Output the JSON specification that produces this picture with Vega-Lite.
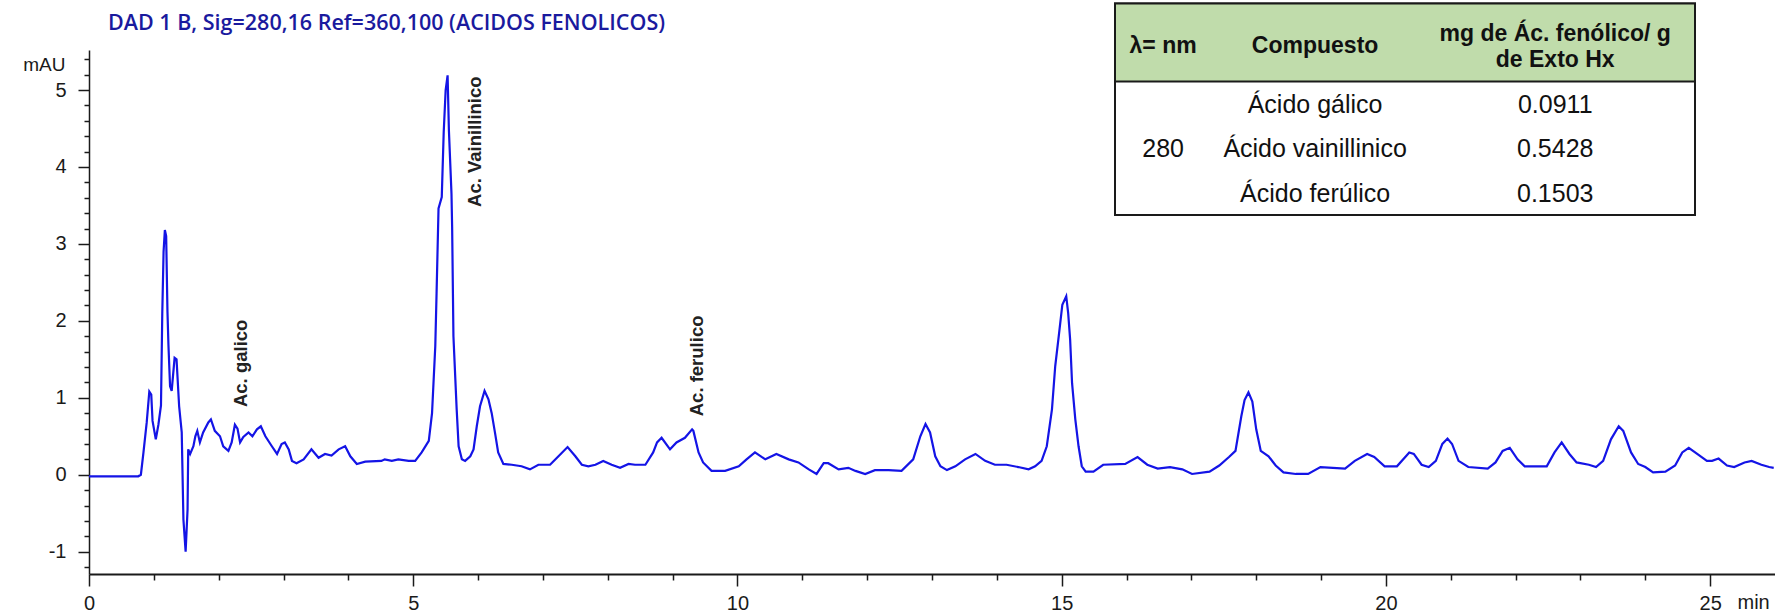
{
  "$schema": "https://vega.github.io/schema/vega-lite/v6.json",
  "width": 1686,
  "height": 524,
  "autosize": {"type": "none"},
  "padding": {"left": 89, "top": 50, "right": 0, "bottom": 38},
  "background": "white",
  "title": {
    "text": "DAD 1 B, Sig=280,16 Ref=360,100 (ACIDOS FENOLICOS)",
    "anchor": "start",
    "frame": "group",
    "dx": 19,
    "offset": -49,
    "font": "Open Sans",
    "fontSize": 21.5,
    "fontWeight": 600,
    "color": "#1a1a9e",
    "baseline": "alphabetic"
  },
  "config": {
    "view": {"stroke": null},
    "axis": {
      "grid": false,
      "labelFont": "Liberation Sans",
      "labelFontSize": 20,
      "labelColor": "#1a1a1a",
      "titleFont": "Liberation Sans",
      "titleFontSize": 19,
      "titleFontWeight": "normal",
      "titleColor": "#1a1a1a",
      "tickColor": "#1a1a1a",
      "domainColor": "#1a1a1a"
    }
  },
  "layer": [
    {
      "data": {
        "values": [
          {"t": 0, "mAU": -0.02}, {"t": 0.5, "mAU": -0.02}, {"t": 0.76, "mAU": -0.02}, {"t": 0.8, "mAU": 0.0},
          {"t": 0.84, "mAU": 0.29}, {"t": 0.89, "mAU": 0.68}, {"t": 0.93, "mAU": 1.08}, {"t": 0.96, "mAU": 1.04},
          {"t": 0.98, "mAU": 0.7}, {"t": 1.03, "mAU": 0.46}, {"t": 1.07, "mAU": 0.65}, {"t": 1.11, "mAU": 0.9},
          {"t": 1.13, "mAU": 2.1}, {"t": 1.15, "mAU": 2.9}, {"t": 1.17, "mAU": 3.18}, {"t": 1.19, "mAU": 3.1},
          {"t": 1.21, "mAU": 2.12}, {"t": 1.225, "mAU": 1.69}, {"t": 1.25, "mAU": 1.15}, {"t": 1.275, "mAU": 1.09},
          {"t": 1.32, "mAU": 1.52}, {"t": 1.35, "mAU": 1.5}, {"t": 1.39, "mAU": 0.89}, {"t": 1.43, "mAU": 0.55},
          {"t": 1.456, "mAU": -0.58}, {"t": 1.49, "mAU": -1.0}, {"t": 1.52, "mAU": -0.45}, {"t": 1.53, "mAU": 0.33},
          {"t": 1.56, "mAU": 0.27}, {"t": 1.61, "mAU": 0.37}, {"t": 1.64, "mAU": 0.5}, {"t": 1.67, "mAU": 0.57},
          {"t": 1.71, "mAU": 0.42}, {"t": 1.76, "mAU": 0.55}, {"t": 1.84, "mAU": 0.68}, {"t": 1.88, "mAU": 0.72},
          {"t": 1.94, "mAU": 0.57}, {"t": 2.02, "mAU": 0.5}, {"t": 2.07, "mAU": 0.37}, {"t": 2.15, "mAU": 0.31},
          {"t": 2.2, "mAU": 0.42}, {"t": 2.25, "mAU": 0.65}, {"t": 2.29, "mAU": 0.6}, {"t": 2.33, "mAU": 0.42},
          {"t": 2.38, "mAU": 0.49}, {"t": 2.46, "mAU": 0.55}, {"t": 2.52, "mAU": 0.5}, {"t": 2.59, "mAU": 0.59},
          {"t": 2.65, "mAU": 0.63}, {"t": 2.72, "mAU": 0.5}, {"t": 2.82, "mAU": 0.37}, {"t": 2.9, "mAU": 0.27},
          {"t": 2.97, "mAU": 0.4}, {"t": 3.02, "mAU": 0.42}, {"t": 3.08, "mAU": 0.33}, {"t": 3.13, "mAU": 0.18},
          {"t": 3.2, "mAU": 0.15}, {"t": 3.31, "mAU": 0.2}, {"t": 3.43, "mAU": 0.33}, {"t": 3.54, "mAU": 0.22},
          {"t": 3.64, "mAU": 0.27}, {"t": 3.74, "mAU": 0.25}, {"t": 3.85, "mAU": 0.33}, {"t": 3.95, "mAU": 0.37},
          {"t": 4.03, "mAU": 0.24}, {"t": 4.13, "mAU": 0.14}, {"t": 4.26, "mAU": 0.17}, {"t": 4.51, "mAU": 0.18},
          {"t": 4.56, "mAU": 0.2}, {"t": 4.67, "mAU": 0.18}, {"t": 4.77, "mAU": 0.2}, {"t": 4.93, "mAU": 0.18},
          {"t": 5.03, "mAU": 0.18}, {"t": 5.13, "mAU": 0.29}, {"t": 5.24, "mAU": 0.44}, {"t": 5.29, "mAU": 0.8},
          {"t": 5.34, "mAU": 1.67}, {"t": 5.36, "mAU": 2.36}, {"t": 5.39, "mAU": 3.46}, {"t": 5.44, "mAU": 3.61},
          {"t": 5.47, "mAU": 4.45}, {"t": 5.5, "mAU": 5.0}, {"t": 5.53, "mAU": 5.19}, {"t": 5.55, "mAU": 4.48},
          {"t": 5.59, "mAU": 3.65}, {"t": 5.6, "mAU": 3.22}, {"t": 5.62, "mAU": 1.8}, {"t": 5.67, "mAU": 0.85},
          {"t": 5.7, "mAU": 0.37}, {"t": 5.75, "mAU": 0.2}, {"t": 5.8, "mAU": 0.18}, {"t": 5.88, "mAU": 0.24},
          {"t": 5.93, "mAU": 0.33}, {"t": 5.98, "mAU": 0.63}, {"t": 6.03, "mAU": 0.89}, {"t": 6.1, "mAU": 1.09},
          {"t": 6.16, "mAU": 0.98}, {"t": 6.21, "mAU": 0.8}, {"t": 6.26, "mAU": 0.55}, {"t": 6.31, "mAU": 0.29},
          {"t": 6.39, "mAU": 0.14}, {"t": 6.52, "mAU": 0.13}, {"t": 6.67, "mAU": 0.11}, {"t": 6.8, "mAU": 0.07},
          {"t": 6.93, "mAU": 0.13}, {"t": 7.11, "mAU": 0.13}, {"t": 7.24, "mAU": 0.24}, {"t": 7.38, "mAU": 0.36},
          {"t": 7.5, "mAU": 0.24}, {"t": 7.6, "mAU": 0.13}, {"t": 7.7, "mAU": 0.11}, {"t": 7.81, "mAU": 0.13},
          {"t": 7.93, "mAU": 0.18}, {"t": 8.06, "mAU": 0.13}, {"t": 8.19, "mAU": 0.09}, {"t": 8.32, "mAU": 0.14},
          {"t": 8.42, "mAU": 0.13}, {"t": 8.58, "mAU": 0.13}, {"t": 8.7, "mAU": 0.29}, {"t": 8.76, "mAU": 0.42},
          {"t": 8.83, "mAU": 0.48}, {"t": 8.96, "mAU": 0.33}, {"t": 9.06, "mAU": 0.42}, {"t": 9.19, "mAU": 0.48},
          {"t": 9.3, "mAU": 0.59}, {"t": 9.32, "mAU": 0.57}, {"t": 9.4, "mAU": 0.29}, {"t": 9.47, "mAU": 0.16},
          {"t": 9.6, "mAU": 0.05}, {"t": 9.81, "mAU": 0.05}, {"t": 10.02, "mAU": 0.11}, {"t": 10.14, "mAU": 0.2},
          {"t": 10.27, "mAU": 0.29}, {"t": 10.43, "mAU": 0.2}, {"t": 10.6, "mAU": 0.27}, {"t": 10.79, "mAU": 0.2},
          {"t": 10.94, "mAU": 0.16}, {"t": 11.1, "mAU": 0.07}, {"t": 11.22, "mAU": 0.01}, {"t": 11.33, "mAU": 0.15},
          {"t": 11.4, "mAU": 0.15}, {"t": 11.56, "mAU": 0.07}, {"t": 11.71, "mAU": 0.09}, {"t": 11.82, "mAU": 0.05},
          {"t": 11.97, "mAU": 0.01}, {"t": 12.12, "mAU": 0.06}, {"t": 12.33, "mAU": 0.06}, {"t": 12.53, "mAU": 0.05},
          {"t": 12.71, "mAU": 0.2}, {"t": 12.82, "mAU": 0.5}, {"t": 12.9, "mAU": 0.66}, {"t": 12.97, "mAU": 0.55},
          {"t": 13.05, "mAU": 0.24}, {"t": 13.13, "mAU": 0.11}, {"t": 13.23, "mAU": 0.06}, {"t": 13.36, "mAU": 0.11},
          {"t": 13.51, "mAU": 0.2}, {"t": 13.67, "mAU": 0.27}, {"t": 13.82, "mAU": 0.18}, {"t": 13.97, "mAU": 0.13},
          {"t": 14.15, "mAU": 0.13}, {"t": 14.33, "mAU": 0.1}, {"t": 14.49, "mAU": 0.07}, {"t": 14.59, "mAU": 0.11},
          {"t": 14.69, "mAU": 0.18}, {"t": 14.77, "mAU": 0.37}, {"t": 14.85, "mAU": 0.85}, {"t": 14.9, "mAU": 1.41},
          {"t": 14.96, "mAU": 1.84}, {"t": 15.01, "mAU": 2.21}, {"t": 15.07, "mAU": 2.32}, {"t": 15.1, "mAU": 2.1},
          {"t": 15.13, "mAU": 1.76}, {"t": 15.16, "mAU": 1.19}, {"t": 15.21, "mAU": 0.72}, {"t": 15.26, "mAU": 0.37},
          {"t": 15.31, "mAU": 0.11}, {"t": 15.37, "mAU": 0.04}, {"t": 15.49, "mAU": 0.04}, {"t": 15.64, "mAU": 0.13},
          {"t": 15.98, "mAU": 0.14}, {"t": 16.17, "mAU": 0.23}, {"t": 16.32, "mAU": 0.13}, {"t": 16.48, "mAU": 0.08},
          {"t": 16.67, "mAU": 0.1}, {"t": 16.86, "mAU": 0.07}, {"t": 17.01, "mAU": 0.01}, {"t": 17.28, "mAU": 0.04},
          {"t": 17.43, "mAU": 0.12}, {"t": 17.58, "mAU": 0.23}, {"t": 17.68, "mAU": 0.31}, {"t": 17.77, "mAU": 0.76},
          {"t": 17.82, "mAU": 0.97}, {"t": 17.88, "mAU": 1.07}, {"t": 17.94, "mAU": 0.95}, {"t": 18.0, "mAU": 0.59},
          {"t": 18.07, "mAU": 0.31}, {"t": 18.19, "mAU": 0.24}, {"t": 18.3, "mAU": 0.12}, {"t": 18.42, "mAU": 0.03},
          {"t": 18.61, "mAU": 0.01}, {"t": 18.8, "mAU": 0.01}, {"t": 18.99, "mAU": 0.1}, {"t": 19.37, "mAU": 0.08},
          {"t": 19.52, "mAU": 0.18}, {"t": 19.71, "mAU": 0.27}, {"t": 19.82, "mAU": 0.23}, {"t": 19.98, "mAU": 0.11},
          {"t": 20.17, "mAU": 0.11}, {"t": 20.36, "mAU": 0.29}, {"t": 20.43, "mAU": 0.27}, {"t": 20.55, "mAU": 0.13},
          {"t": 20.66, "mAU": 0.1}, {"t": 20.77, "mAU": 0.18}, {"t": 20.87, "mAU": 0.4}, {"t": 20.95, "mAU": 0.47},
          {"t": 21.02, "mAU": 0.4}, {"t": 21.12, "mAU": 0.18}, {"t": 21.27, "mAU": 0.1}, {"t": 21.57, "mAU": 0.08},
          {"t": 21.69, "mAU": 0.16}, {"t": 21.8, "mAU": 0.31}, {"t": 21.91, "mAU": 0.35}, {"t": 22.03, "mAU": 0.2},
          {"t": 22.14, "mAU": 0.11}, {"t": 22.48, "mAU": 0.11}, {"t": 22.6, "mAU": 0.29}, {"t": 22.71, "mAU": 0.42},
          {"t": 22.83, "mAU": 0.27}, {"t": 22.94, "mAU": 0.16}, {"t": 23.13, "mAU": 0.13}, {"t": 23.24, "mAU": 0.1},
          {"t": 23.35, "mAU": 0.18}, {"t": 23.47, "mAU": 0.46}, {"t": 23.59, "mAU": 0.63}, {"t": 23.66, "mAU": 0.57},
          {"t": 23.78, "mAU": 0.29}, {"t": 23.89, "mAU": 0.14}, {"t": 24.0, "mAU": 0.1}, {"t": 24.12, "mAU": 0.03},
          {"t": 24.31, "mAU": 0.04}, {"t": 24.46, "mAU": 0.12}, {"t": 24.57, "mAU": 0.29}, {"t": 24.67, "mAU": 0.35},
          {"t": 24.8, "mAU": 0.27}, {"t": 24.95, "mAU": 0.18}, {"t": 25.03, "mAU": 0.18}, {"t": 25.13, "mAU": 0.21},
          {"t": 25.26, "mAU": 0.12}, {"t": 25.37, "mAU": 0.1}, {"t": 25.53, "mAU": 0.16}, {"t": 25.64, "mAU": 0.18},
          {"t": 25.79, "mAU": 0.13}, {"t": 25.91, "mAU": 0.1}, {"t": 25.98, "mAU": 0.09}
        ]
      },
      "layer": [
        {
          "mark": {"type": "line", "color": "#1414e6", "strokeWidth": 2.2, "strokeJoin": "miter"},
          "encoding": {
            "x": {
              "field": "t", "type": "quantitative",
              "scale": {"domain": [0, 26], "nice": false, "zero": false},
              "axis": {
                "orient": "bottom", "values": [0, 5, 10, 15, 20, 25], "tickSize": 12, "tickWidth": 1.5,
                "domainWidth": 2, "labelPadding": 7, "labelFlush": false, "labelOverlap": false,
                "title": "min", "titleX": 1648, "titleY": 28, "titleAlign": "left", "titleBaseline": "middle", "titleAnchor": null,
                "titleFontSize": 20
              }
            },
            "y": {
              "field": "mAU", "type": "quantitative",
              "scale": {"domain": [-1.29, 5.52], "nice": false, "zero": false},
              "axis": {
                "orient": "left", "values": [-1, 0, 1, 2, 3, 4, 5], "tickSize": 11, "tickWidth": 1.5,
                "domainWidth": 1.5, "labelPadding": 12, "labelExpr": "'' + datum.value",
                "title": "mAU", "titleAngle": 0, "titleX": -24, "titleY": 14, "titleAlign": "right", "titleBaseline": "middle", "titleAnchor": null
              }
            }
          }
        },
        {
          "mark": {"type": "line", "strokeOpacity": 0},
          "encoding": {
            "x": {
              "field": "t", "type": "quantitative",
              "scale": {"domain": [0, 26], "nice": false, "zero": false},
              "axis": {
                "orient": "bottom", "values": [1, 2, 3, 4, 6, 7, 8, 9, 11, 12, 13, 14, 16, 17, 18, 19, 21, 22, 23, 24],
                "tickSize": 6, "tickWidth": 1.5, "labels": false, "domain": false, "title": null
              }
            },
            "y": {
              "field": "mAU", "type": "quantitative",
              "scale": {"domain": [-1.29, 5.52], "nice": false, "zero": false},
              "axis": {
                "orient": "left",
                "values": [-1.2, -0.8, -0.6, -0.4, -0.2, 0.2, 0.4, 0.6, 0.8, 1.2, 1.4, 1.6, 1.8, 2.2, 2.4, 2.6, 2.8, 3.2, 3.4, 3.6, 3.8, 4.2, 4.4, 4.6, 4.8, 5.2, 5.4],
                "tickSize": 5, "tickWidth": 1.5, "labels": false, "domain": false, "title": null
              }
            }
          }
        },
        {
          "data": {
            "values": [
              {"pico": "Ac. galico", "t": 2.35, "y": 0.88},
              {"pico": "Ac. Vainillinico", "t": 5.96, "y": 3.48},
              {"pico": "Ac. ferulico", "t": 9.38, "y": 0.76}
            ]
          },
          "mark": {"type": "text", "angle": 270, "align": "left", "baseline": "middle", "font": "Liberation Sans", "fontSize": 18.5, "fontWeight": "bold", "color": "#222222"},
          "encoding": {
            "x": {"field": "t", "type": "quantitative", "scale": {"domain": [0, 26], "nice": false, "zero": false}, "axis": null},
            "y": {"field": "y", "type": "quantitative", "scale": {"domain": [-1.29, 5.52], "nice": false, "zero": false}, "axis": null},
            "text": {"field": "pico"}
          }
        }
      ],
      "resolve": {"axis": {"x": "independent", "y": "independent"}}
    },
    {
      "layer": [
        {
          "data": {"values": [{"tabla": "Ácidos fenólicos"}]},
          "layer": [
            {
              "mark": {"type": "rect", "fill": "white", "stroke": "#1a1a1a", "strokeWidth": 2},
              "encoding": {
                "x": {"datum": 0, "type": "quantitative", "scale": {"domain": [0, 1], "range": [1026, 1606], "nice": false, "zero": false}, "axis": null},
                "x2": {"datum": 1},
                "y": {"datum": 0, "type": "quantitative", "scale": {"domain": [0, 1], "range": [-46.6, 165], "nice": false, "zero": false}, "axis": null},
                "y2": {"datum": 1}
              }
            },
            {
              "mark": {"type": "rect", "fill": "#c0dcab", "stroke": "#1a1a1a", "strokeWidth": 2},
              "encoding": {
                "x": {"datum": 0, "type": "quantitative"},
                "x2": {"datum": 1},
                "y": {"datum": 0, "type": "quantitative"},
                "y2": {"datum": 0.369}
              }
            },
            {
              "mark": {"type": "text", "font": "Liberation Sans", "fontSize": 23, "fontWeight": "bold", "color": "#111111", "baseline": "middle", "align": "center"},
              "encoding": {
                "x": {"datum": 0.083, "type": "quantitative"},
                "y": {"datum": 0.2, "type": "quantitative"},
                "text": {"value": "λ= nm"}
              }
            },
            {
              "mark": {"type": "text", "font": "Liberation Sans", "fontSize": 23, "fontWeight": "bold", "color": "#111111", "baseline": "middle", "align": "center"},
              "encoding": {
                "x": {"datum": 0.345, "type": "quantitative"},
                "y": {"datum": 0.2, "type": "quantitative"},
                "text": {"value": "Compuesto"}
              }
            },
            {
              "mark": {"type": "text", "font": "Liberation Sans", "fontSize": 23, "fontWeight": "bold", "color": "#111111", "baseline": "middle", "align": "center", "lineHeight": 26},
              "encoding": {
                "x": {"datum": 0.759, "type": "quantitative"},
                "y": {"datum": 0.145, "type": "quantitative"},
                "text": {"value": ["mg de Ác. fenólico/ g", "de Exto Hx"]}
              }
            }
          ]
        },
        {
          "data": {
            "values": [
              {"compuesto": "Ácido gálico", "mg_g": 0.0911},
              {"compuesto": "Ácido vainillinico", "mg_g": 0.5428},
              {"compuesto": "Ácido ferúlico", "mg_g": 0.1503}
            ]
          },
          "layer": [
            {
              "mark": {"type": "text", "font": "Liberation Sans", "fontSize": 25, "color": "#111111", "baseline": "middle", "align": "center"},
              "encoding": {
                "x": {"datum": 0.345, "type": "quantitative", "scale": {"domain": [0, 1], "range": [1026, 1606], "nice": false, "zero": false}, "axis": null},
                "y": {"field": "compuesto", "type": "nominal", "sort": null, "scale": {"type": "point", "domain": ["Ácido gálico", "Ácido vainillinico", "Ácido ferúlico"], "range": [55.3, 143.6], "padding": 0}, "axis": null},
                "text": {"field": "compuesto"}
              }
            },
            {
              "mark": {"type": "text", "font": "Liberation Sans", "fontSize": 25, "color": "#111111", "baseline": "middle", "align": "center"},
              "encoding": {
                "x": {"datum": 0.759, "type": "quantitative"},
                "y": {"field": "compuesto", "type": "nominal", "sort": null},
                "text": {"field": "mg_g", "type": "quantitative", "format": ".4f"}
              }
            },
            {
              "data": {"values": [{"compuesto": "Ácido vainillinico", "lambda_nm": 280}]},
              "mark": {"type": "text", "font": "Liberation Sans", "fontSize": 25, "color": "#111111", "baseline": "middle", "align": "center"},
              "encoding": {
                "x": {"datum": 0.083, "type": "quantitative"},
                "y": {"field": "compuesto", "type": "nominal", "sort": null},
                "text": {"field": "lambda_nm", "type": "quantitative", "format": "d"}
              }
            }
          ]
        }
      ],
      "resolve": {"scale": {"y": "independent"}}
    }
  ],
  "resolve": {"scale": {"x": "independent", "y": "independent"}}
}
